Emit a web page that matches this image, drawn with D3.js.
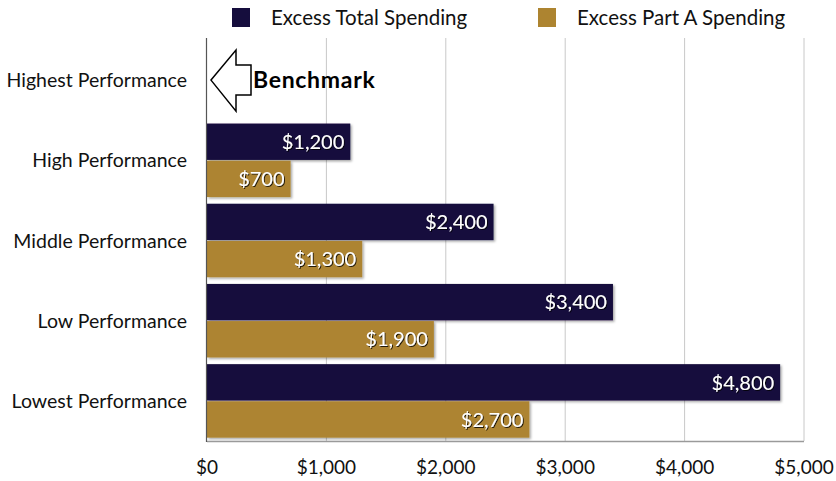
<!DOCTYPE html>
<html>
<head>
<meta charset="utf-8">
<script src="https://cdn.jsdelivr.net/npm/d3@7"></script>
<style>
  body { margin:0; background:#fff; }
  text { font-family: "Lato", "Open Sans", sans-serif; }
</style>
</head>
<body>
<div id="viz"></div>
<script>
const categories = ["Highest Performance","High Performance","Middle Performance","Low Performance","Lowest Performance"];
const seriesNames = ["Excess Total Spending","Excess Part A Spending"];
const totalSpending = [null,1200,2400,3400,4800];
const partASpending = [null,700,1300,1900,2700];
const xTicks = [0,1000,2000,3000,4000,5000];
const colors = ["#150d3d","#ad8430"];

const W = 836, H = 481;
const plotLeft = 207, plotRight = 804, plotTop = 40, plotBottom = 441;

const svg = d3.select("#viz").append("svg").attr("width",W).attr("height",H);

const defs = svg.append("defs");
const sh = defs.append("filter").attr("id","barShadow").attr("x","-5%").attr("y","-10%").attr("width","115%").attr("height","130%");
sh.append("feDropShadow").attr("dx",1.5).attr("dy",1.5).attr("stdDeviation",1).attr("flood-color","#000").attr("flood-opacity",0.35);
const ts = defs.append("filter").attr("id","textShadow");
ts.append("feDropShadow").attr("dx",1).attr("dy",1).attr("stdDeviation",0.6).attr("flood-color","#000").attr("flood-opacity",0.8);

const x = d3.scaleLinear().domain([0,5000]).range([plotLeft,plotRight]);
const y = d3.scaleBand().domain(categories).range([plotTop,plotBottom]);
const sub = d3.scaleBand().domain(seriesNames).range([0,y.bandwidth()]).paddingOuter(0.09).paddingInner(0.02);

// gridlines
svg.append("g").selectAll("line").data(xTicks.slice(1)).enter().append("line")
  .attr("x1",d=>x(d)).attr("x2",d=>x(d)).attr("y1",plotTop-2).attr("y2",plotBottom)
  .attr("stroke","#c8c8c8").attr("stroke-width",1);

// bars
const rows = categories.map((c,i)=>({cat:c, vals:[totalSpending[i],partASpending[i]]}));
const g = svg.append("g");
rows.forEach(r=>{
  r.vals.forEach((v,j)=>{
    if (v==null) return;
    const yy = y(r.cat)+sub(seriesNames[j]);
    g.append("rect").attr("x",x(0)).attr("y",yy).attr("width",x(v)-x(0)).attr("height",sub.bandwidth())
      .attr("fill",colors[j]).attr("filter","url(#barShadow)");
    g.append("text").attr("x",x(v)-6).attr("y",yy+sub.bandwidth()/2).attr("dy","0.36em")
      .attr("text-anchor","end").attr("fill","#fff").attr("font-size",20)
      .attr("filter","url(#textShadow)").text(d3.format("$,")(v));
  });
});

// axes
svg.append("line").attr("x1",plotLeft).attr("x2",plotRight).attr("y1",plotBottom+0.5).attr("y2",plotBottom+0.5).attr("stroke","#9a9a9a").attr("stroke-width",1.5);
svg.append("line").attr("x1",plotLeft-0.5).attr("x2",plotLeft-0.5).attr("y1",plotTop-2).attr("y2",plotBottom+1).attr("stroke","#555").attr("stroke-width",1.2);

svg.append("g").selectAll("text").data(xTicks).enter().append("text")
  .attr("x",d=>x(d)).attr("y",474).attr("text-anchor","middle").attr("font-size",19).attr("fill","#111")
  .text(d=>d3.format("$,")(d));

svg.append("g").selectAll("text").data(categories).enter().append("text")
  .attr("x",187).attr("y",d=>y(d)+y.bandwidth()/2).attr("dy","0.36em")
  .attr("text-anchor","end").attr("font-size",19.5).attr("fill","#111").text(d=>d);

// benchmark arrow
const cy = y(categories[0])+y.bandwidth()/2;
const ax = x(0)+4;
svg.append("polygon")
  .attr("points",[[ax,cy],[ax+25,cy-30],[ax+25,cy-15],[ax+40,cy-15],[ax+40,cy+15],[ax+25,cy+15],[ax+25,cy+31]].map(p=>p.join(",")).join(" "))
  .attr("fill","#fff").attr("stroke","#000").attr("stroke-width",1.5);
svg.append("text").attr("x",ax+42).attr("y",cy).attr("dy","0.36em").attr("font-size",23).attr("letter-spacing",0.7)
  .attr("font-weight","bold").attr("fill","#000").text("Benchmark");

// legend
const legX = [232,538];
seriesNames.forEach((s,i)=>{
  svg.append("rect").attr("x",legX[i]).attr("y",8).attr("width",18).attr("height",19).attr("fill",colors[i]);
  svg.append("text").attr("x",legX[i]+39).attr("y",18).attr("dy","0.36em").attr("font-size",20.5).attr("fill","#111").text(s);
});
</script>
</body>
</html>
